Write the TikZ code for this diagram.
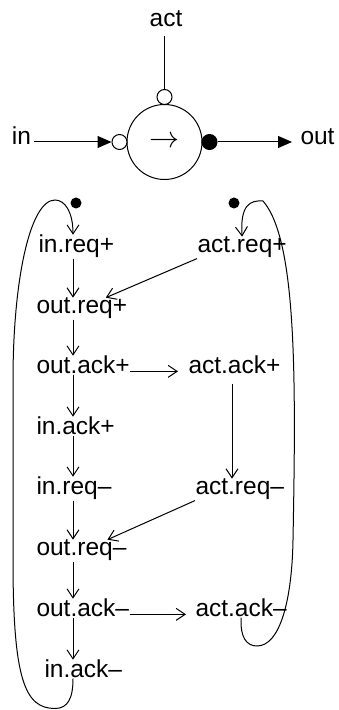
\RequirePackage{fix-cm}
\documentclass[tikz,border=0pt]{standalone}
\usepackage{fontspec}
\setmainfont{Liberation Sans}
\usetikzlibrary{arrows.meta}

\begin{document}
\begin{tikzpicture}[
    x=1pt, y=1pt,
    line width=1pt,
    every node/.style={font=\fontsize{24.5}{29}\selectfont, inner sep=0pt},
    ev/.style={anchor=base west},
    arc/.style={-{Straight Barb[length=9pt,width=12pt]}},
    feed/.style={-{Triangle[length=14pt,width=12pt]}},
    ring/.style={circle, draw, fill=white, minimum size=15pt},
    token/.style={circle, fill, minimum size=11pt}
]
\useasboundingbox (0,0) rectangle (338,710);
% Buffer symbol
\node[circle, draw, minimum size=75pt, font=\fontsize{30}{30}\selectfont] (buf) at (164.5,568) {$\rightarrow$};
\node[ring] (actring) at (164.5,613) {};
\node[ring] (inring) at (119.5,568) {};
\node[ring, fill=black] (outdot) at (209.5,568) {};
\node[anchor=base] (actlbl) at (166,683) {act};
\node[anchor=mid] (inlbl) at (21.5,568) {in};
\node[anchor=mid west] (outlbl) at (300,568) {out};
\draw[shorten <=8pt] (actlbl.south -| actring) -- (actring.north);
\draw[feed, shorten <=2pt] (inlbl.mid east) -- (inring.west);
\draw[feed, shorten >=8pt] (outdot.east) -- (outlbl.mid west);
% Left events
\node[ev] (inreqp) at (38,457) {in.req+};
\node[ev] (outreqp) at (36,396) {out.req+};
\node[ev] (outackp) at (36,336) {out.ack+};
\node[ev] (inackp) at (36,275) {in.ack+};
\node[ev] (inreqm) at (36,215) {in.req--};
\node[ev] (outreqm) at (36,154) {out.req--};
\node[ev] (outackm) at (36,93) {out.ack--};
\node[ev] (inackm) at (44,32) {in.ack--};
% Right events
\node[ev] (actreqp) at (197,457) {act.req+};
\node[ev] (actackp) at (188,336) {act.ack+};
\node[ev] (actreqm) at (195,215) {act.req--};
\node[ev] (actackm) at (195,93) {act.ack--};
% Initial tokens
\node[token] (tokl) at (76,507) {};
\node[token] (tokr) at (234,507) {};
\coordinate (lane) at (73,0);
\coordinate (rlane) at (232,0);
% Left chain
\draw[arc] (inreqp.south -| lane) -- (outreqp.north -| lane);
\draw[arc] (outreqp.south -| lane) -- (outackp.north -| lane);
\draw[arc] (outackp.south -| lane) -- (inackp.north -| lane);
\draw[arc] (inackp.south -| lane) -- (inreqm.north -| lane);
\draw[arc] (inreqm.south -| lane) -- (outreqm.north -| lane);
\draw[arc] (outreqm.south -| lane) -- (outackm.north -| lane);
\draw[arc] (outackm.south -| lane) -- (inackm.north -| lane);
% Cross arcs
\draw[arc] (actreqp.south west) -- ([xshift=24pt]outreqp.north);
\draw[arc, shorten >=10pt] (outackp.mid east) -- (actackp.mid west);
\draw[arc, shorten <=9pt] (actackp.south -| rlane) -- (actreqm.north -| rlane);
\draw[arc] (actreqm.south west) -- ([xshift=26pt]outreqm.north);
\draw[arc, shorten >=9pt] (outackm.mid east) -- (actackm.mid west);
% Loops back
\draw[arc] (inackm.south -| lane) .. controls (73,12) and (68,1.5) .. (55,1.5)
    .. controls (25,1.5) and (13,30) .. (13,150) -- (13,330)
    .. controls (13,430) and (30,510) .. (55,510)
    .. controls (65,510) and (73,498) .. (inreqp.north -| lane);
\draw[arc] (actackm.south) .. controls (240,72) and (247,64) .. (257,64)
    .. controls (280,64) and (292,110) .. (293,170)
    .. controls (296,330) and (297,470) .. (263,509)
    .. controls (250,510) and (240,505) .. (actreqp.north);
\end{tikzpicture}
\end{document}
